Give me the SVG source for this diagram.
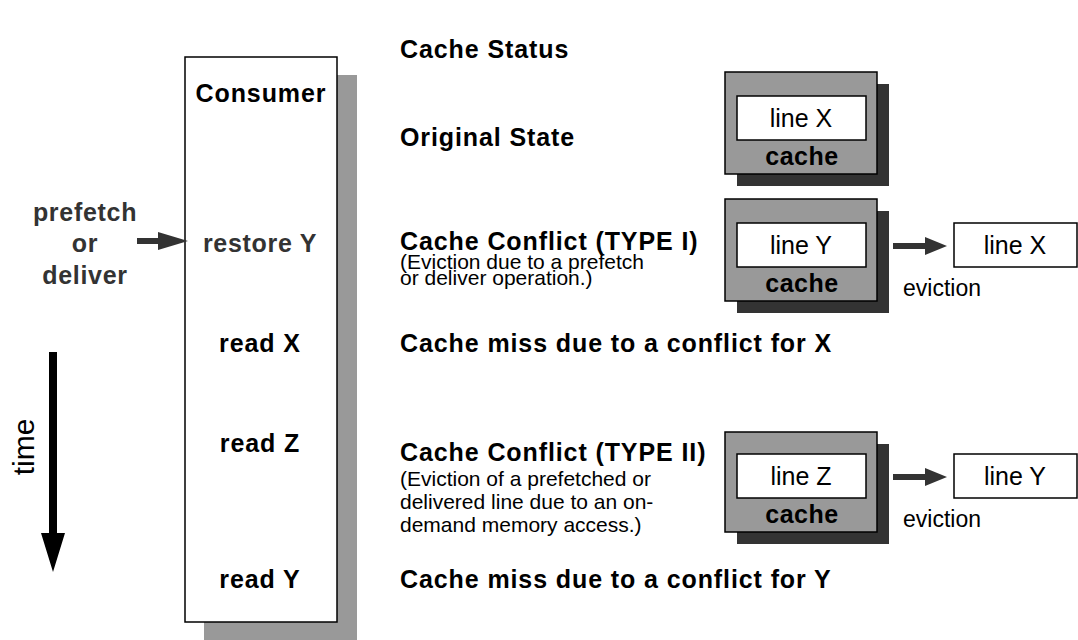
<svg xmlns="http://www.w3.org/2000/svg" width="1078" height="640" viewBox="0 0 1078 640">
<style>
text{font-family:"Liberation Sans",Arial,sans-serif;}
.b{font-weight:bold;font-size:25px;fill:#000;letter-spacing:0.9px;}
.c{font-weight:bold;font-size:25px;fill:#000;letter-spacing:0.5px;}
.g{font-weight:bold;font-size:25px;fill:#333;letter-spacing:0.7px;}
.s{font-size:21px;fill:#000;}
.ln{font-size:25px;fill:#000;}
.ev{font-size:23px;fill:#000;}
.shadow{fill:#333;}
.cache{fill:#999;stroke:#000;stroke-width:1.5;}
.wbox{fill:#fff;stroke:#000;stroke-width:1.5;}
.arr{fill:#333;}
</style>
<rect width="1078" height="640" fill="#fff"/>
<g id="consumer">
<rect x="204" y="75" width="153" height="565" fill="#999"/>
<rect x="185" y="57" width="152" height="565" class="wbox"/>
<text x="261" y="102" text-anchor="middle" class="b">Consumer</text>
<text x="260" y="252" text-anchor="middle" class="g">restore Y</text>
<text x="260" y="352" text-anchor="middle" class="b">read X</text>
<text x="260" y="452" text-anchor="middle" class="b">read Z</text>
<text x="260" y="588" text-anchor="middle" class="b">read Y</text>
</g>
<g id="prefetch-label">
<text x="85" y="221" text-anchor="middle" class="g">prefetch</text>
<text x="85" y="252" text-anchor="middle" class="g">or</text>
<text x="85" y="284" text-anchor="middle" class="g">deliver</text>
</g>
<g id="time-label">
<text transform="translate(34,447) rotate(-90)" text-anchor="middle" style="font-size:30px;fill:#000">time</text>
</g>
<g id="status-texts">
<text x="400" y="58" class="b">Cache Status</text>
<text x="400" y="146" class="b">Original State</text>
<text x="400" y="250" class="b">Cache Conflict (TYPE I)</text>
<text x="400" y="269" class="s">(Eviction due to a prefetch</text>
<text x="400" y="285" class="s">or deliver operation.)</text>
<text x="400" y="352" class="b">Cache miss due to a conflict for X</text>
<text x="400" y="461" class="b">Cache Conflict (TYPE II)</text>
<text x="400" y="486" class="s">(Eviction of a prefetched or</text>
<text x="400" y="509" class="s">delivered line due to an on-</text>
<text x="400" y="532" class="s">demand memory access.)</text>
<text x="400" y="588" class="b">Cache miss due to a conflict for Y</text>
</g>
<g id="cache1">
<rect x="737" y="84" width="152" height="102" class="shadow"/>
<rect x="725" y="72" width="152" height="102" class="cache"/>
<rect x="737" y="96" width="129" height="44" class="wbox"/>
<text x="801" y="127" text-anchor="middle" class="ln">line X</text>
<text x="802" y="165" text-anchor="middle" class="c">cache</text>
</g>
<g id="cache2">
<rect x="737" y="211" width="152" height="102" class="shadow"/>
<rect x="725" y="199" width="152" height="102" class="cache"/>
<rect x="737" y="223" width="129" height="44" class="wbox"/>
<text x="801" y="254" text-anchor="middle" class="ln">line Y</text>
<text x="802" y="292" text-anchor="middle" class="c">cache</text>
</g>
<g id="evicted1">
<rect x="954" y="223" width="123" height="44" class="wbox"/>
<text x="1015" y="254" text-anchor="middle" class="ln">line X</text>
<text x="903" y="296" class="ev">eviction</text>
</g>
<g id="cache3">
<rect x="737" y="444" width="152" height="100" class="shadow"/>
<rect x="725" y="432" width="152" height="100" class="cache"/>
<rect x="737" y="454" width="129" height="44" class="wbox"/>
<text x="801" y="485" text-anchor="middle" class="ln">line Z</text>
<text x="802" y="523" text-anchor="middle" class="c">cache</text>
</g>
<g id="evicted2">
<rect x="954" y="454" width="123" height="44" class="wbox"/>
<text x="1015" y="485" text-anchor="middle" class="ln">line Y</text>
<text x="903" y="527" class="ev">eviction</text>
</g>
<g id="connectors">
<polygon class="arr" points="137,238 158,238 158,232 188,241 158,250 158,244 137,244"/>
<polygon class="arr" points="893,243 925,243 925,237 947,246 925,255 925,249 893,249"/>
<polygon class="arr" points="893,474 925,474 925,468 947,477 925,486 925,480 893,480"/>
<polygon fill="#000" points="49,352 57,352 57,533 65,533 53,572 41,533 49,533"/>
</g>
</svg>
